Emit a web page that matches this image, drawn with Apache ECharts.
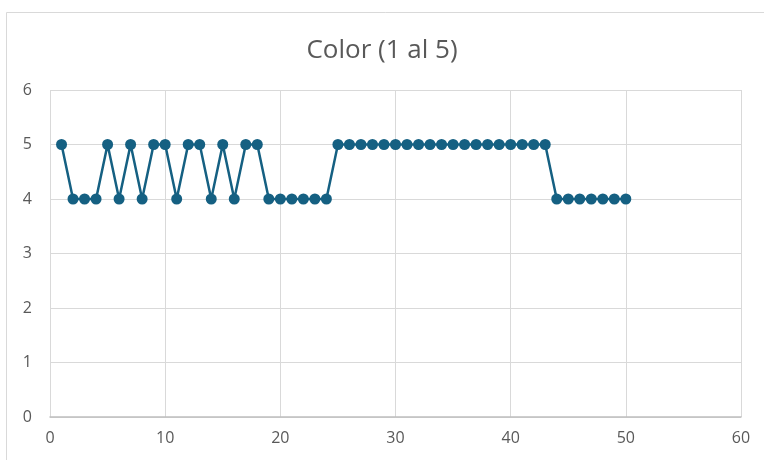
<!DOCTYPE html>
<html><head><meta charset="utf-8">
<script src="https://cdn.jsdelivr.net/npm/echarts@6/dist/echarts.min.js"></script>
<style>html,body{margin:0;padding:0;background:#fff}#c{width:764px;height:460px}</style>
</head><body><div id="c"></div>
<script>
const xValues = [1,2,3,4,5,6,7,8,9,10,11,12,13,14,15,16,17,18,19,20,21,22,23,24,25,26,27,28,29,30,31,32,33,34,35,36,37,38,39,40,41,42,43,44,45,46,47,48,49,50];
const colorScores = [5,4,4,4,5,4,5,4,5,5,4,5,5,4,5,4,5,5,4,4,4,4,4,4,5,5,5,5,5,5,5,5,5,5,5,5,5,5,5,5,5,5,5,4,4,4,4,4,4,4];
const titleText = 'Color (1 al 5)';

const chart = echarts.init(document.getElementById('c'), null, {renderer:'canvas'});
const font = '"Open Sans", "Noto Sans", sans-serif';
chart.setOption({
  animation:false,
  backgroundColor:'#fff',
  graphic:[{type:'rect',shape:{x:6.5,y:12.5,width:800,height:500},style:{fill:'none',stroke:'#d9d9d9',lineWidth:1},silent:true}],
  title:{text:titleText,left:'center',top:33,textStyle:{color:'#595959',fontSize:26,fontWeight:'normal',fontFamily:font},
    padding:[5,0,5,20]},
  grid:{left:50,right:23,top:90,bottom:43,containLabel:false},
  xAxis:{type:'value',min:0,max:60,interval:10,
    axisLine:{show:true,lineStyle:{color:'#bfbfbf',width:1.5}},
    axisTick:{show:false},
    splitLine:{show:true,lineStyle:{color:'#d9d9d9',width:1}},
    axisLabel:{color:'#595959',fontSize:16,fontFamily:font,margin:13}},
  yAxis:{type:'value',min:0,max:6,interval:1,
    axisLine:{show:false},axisTick:{show:false},
    splitLine:{show:true,lineStyle:{color:'#d9d9d9',width:1}},
    axisLabel:{color:'#595959',fontSize:16,fontFamily:font,margin:18}},
  series:[{type:'line',data:xValues.map((x,i)=>[x,colorScores[i]]),
    symbol:'circle',symbolSize:11,
    lineStyle:{color:'#156082',width:2.5},
    itemStyle:{color:'#156082'}}]
});
</script></body></html>
